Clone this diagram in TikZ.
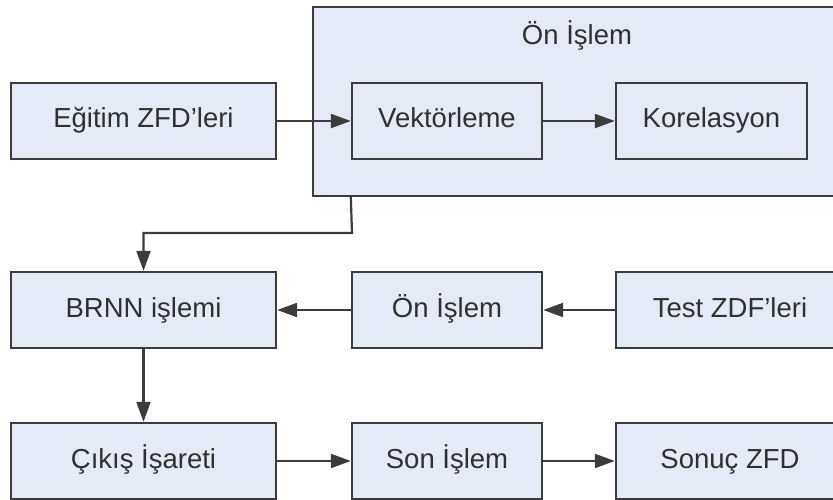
\documentclass[tikz,border=0pt]{standalone}
\usepackage{fontspec}
\setmainfont{Liberation Sans}
\usetikzlibrary{arrows.meta}
\definecolor{boxfill}{HTML}{E5EBF6}
\definecolor{boxline}{HTML}{3C3C3C}
\definecolor{txt}{HTML}{303030}
\begin{document}
\begin{tikzpicture}[x=1pt,y=-1pt,
  box/.style={draw=boxline, line width=2.4pt, fill=boxfill, rectangle,
    minimum height=76pt, inner sep=0pt, text=txt,
    text height=19pt, text depth=5pt,
    font=\fontsize{27.5}{32}\selectfont},
  arr/.style={draw=boxline, line width=2.2pt,
    -{Triangle[length=20pt,width=14pt]}}]
\useasboundingbox (0,0) rectangle (833,500);
% outer pre-processing box
\node[box, minimum width=528pt, minimum height=189pt] (pre) at (577,101.5) {};
\node[text=txt, font=\fontsize{27.5}{32}\selectfont, text height=19pt, text depth=5pt] (pretitle) at (577,38) {Ön İşlem};
% row 1
\node[box, minimum width=265pt] (eg) at (143.5,121) {Eğitim ZFD’leri};
\node[box, minimum width=190pt] (vek) at (447,121) {Vektörleme};
\node[box, minimum width=191pt] (kor) at (711.5,121) {Korelasyon};
% row 2
\node[box, minimum width=265pt] (brnn) at (143.5,310) {BRNN işlemi};
\node[box, minimum width=190pt] (pre2) at (447,310) {Ön İşlem};
\node[box, minimum width=228pt] (test) at (730,310) {Test ZDF’leri};
% row 3
\node[box, minimum width=265pt] (cik) at (143.5,461) {Çıkış İşareti};
\node[box, minimum width=190pt] (son) at (447,461) {Son İşlem};
\node[box, minimum width=228pt] (sonuc) at (730,461) {Sonuç ZFD};
% connectors
\draw[arr] (eg.east) -- (vek.west);
\draw[arr] (vek.east) -- (kor.west);
\coordinate (jog) at (352,233);
\draw[arr] (vek.west |- pre.south) -- (jog) -| (brnn.north);
\draw[arr] (test.west) -- (pre2.east);
\draw[arr] (pre2.west) -- (brnn.east);
\draw[arr] (brnn.south) -- (cik.north);
\draw[arr] (cik.east) -- (son.west);
\draw[arr] (son.east) -- (sonuc.west);
\end{tikzpicture}
\end{document}
